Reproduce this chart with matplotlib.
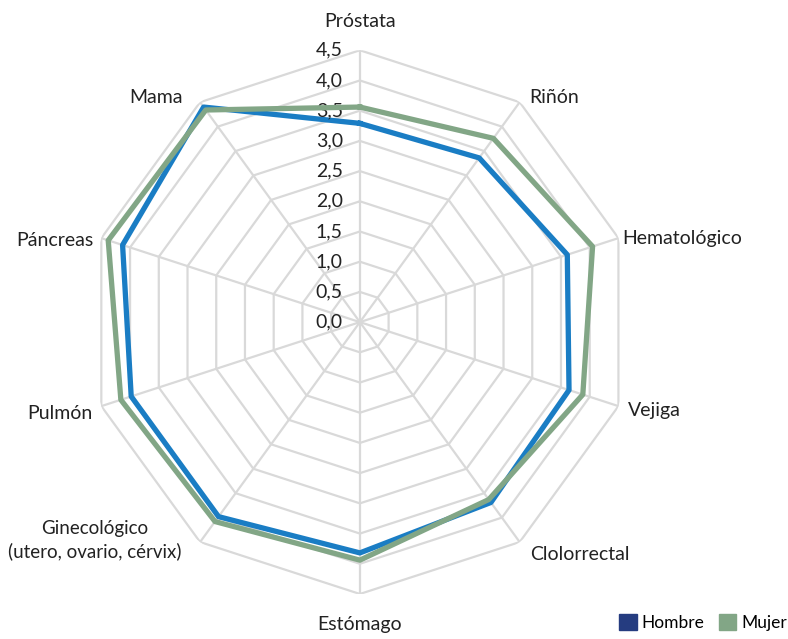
import numpy as np
import matplotlib
matplotlib.use('Agg')
from matplotlib import pyplot as plt
from matplotlib.patches import Patch
from matplotlib import transforms

categorias = ['Próstata', 'Riñón', 'Hematológico', 'Vejiga', 'Clolorrectal',
              'Estómago', 'Ginecológico\n(utero, ovario, cérvix)', 'Pulmón',
              'Páncreas', 'Mama']
hombre = [3.29, 3.36, 3.61, 3.64, 3.69, 3.82, 3.98, 3.98, 4.13, 4.40]
mujer = [3.56, 3.76, 4.05, 3.88, 3.63, 3.94, 4.08, 4.16, 4.38, 4.34]
niveles = [0.0, 0.5, 1.0, 1.5, 2.0, 2.5, 3.0, 3.5, 4.0, 4.5]
etiquetas_niveles = ['0,0', '0,5', '1,0', '1,5', '2,0', '2,5', '3,0', '3,5', '4,0', '4,5']

plt.rcParams['font.family'] = ['Lato', 'DejaVu Sans']

c_hombre = '#1a7dc4'
c_mujer = '#82a686'
c_gris = '#d9d9d9'

fig = plt.figure(figsize=(7.88, 6.39), dpi=100)
ax = fig.add_axes([0.1117, 0.0704, 0.690, 0.851], projection='polar')
ax.set_theta_zero_location('N')
ax.set_theta_direction(-1)

n = len(categorias)
ang = np.linspace(0, 2 * np.pi, n, endpoint=False)
ang_c = np.append(ang, ang[0])

# rejilla poligonal
for r in niveles[1:]:
    ax.plot(ang_c, [r] * (n + 1), color=c_gris, lw=1.6, zorder=1)
for a in ang:
    ax.plot([a, a], [0, niveles[-1]], color=c_gris, lw=1.6, zorder=1)

ax.plot(ang_c, hombre + hombre[:1], color=c_hombre, lw=3.8, zorder=3)
ax.plot(ang_c, mujer + mujer[:1], color=c_mujer, lw=3.8, zorder=4)

ax.set_ylim(0, 4.5)
ax.grid(False)
ax.spines['polar'].set_visible(False)
ax.set_xticks([])
ax.set_yticks([])
ax.patch.set_alpha(0)

# etiquetas de los niveles
off = transforms.offset_copy(ax.transData, fig=fig, x=-17, y=0, units='dots')
for r, t in zip(niveles, etiquetas_niveles):
    ax.text(0, r, t, transform=off, ha='right', va='center', fontsize=14,
            color='#222222')

# etiquetas de categorias (desplazamiento en pixeles desde el vertice exterior)
desp = [(0, 20, 'center', 'bottom'), (10, 5, 'left', 'center'),
        (4, 0, 'left', 'center'), (10, -4, 'left', 'center'),
        (10, -12, 'left', 'center'), (0, -22, 'center', 'top'),
        (-19, 2, 'right', 'center'), (-9, -7, 'right', 'center'),
        (-8, -2, 'right', 'center'), (-17, 5, 'right', 'center')]
for a, t, (dx, dy, ha, va) in zip(ang, categorias, desp):
    tr = transforms.offset_copy(ax.transData, fig=fig, x=dx, y=dy, units='dots')
    fs = 13.5 if '\n' in t else 14
    ax.text(a, niveles[-1], t, transform=tr, ha=ha, va=va, fontsize=fs,
            color='#222222', multialignment='center', linespacing=1.3)

handles = [Patch(color='#253c80', label='Hombre'), Patch(color=c_mujer, label='Mujer')]
fig.legend(handles=handles, loc='lower left', bbox_to_anchor=(0.766, -0.012),
           ncol=2, frameon=False, fontsize=12.5, handlelength=1.0, handleheight=1.0,
           handletextpad=0.3, columnspacing=0.8)

fig.savefig('out.png', dpi=100)
